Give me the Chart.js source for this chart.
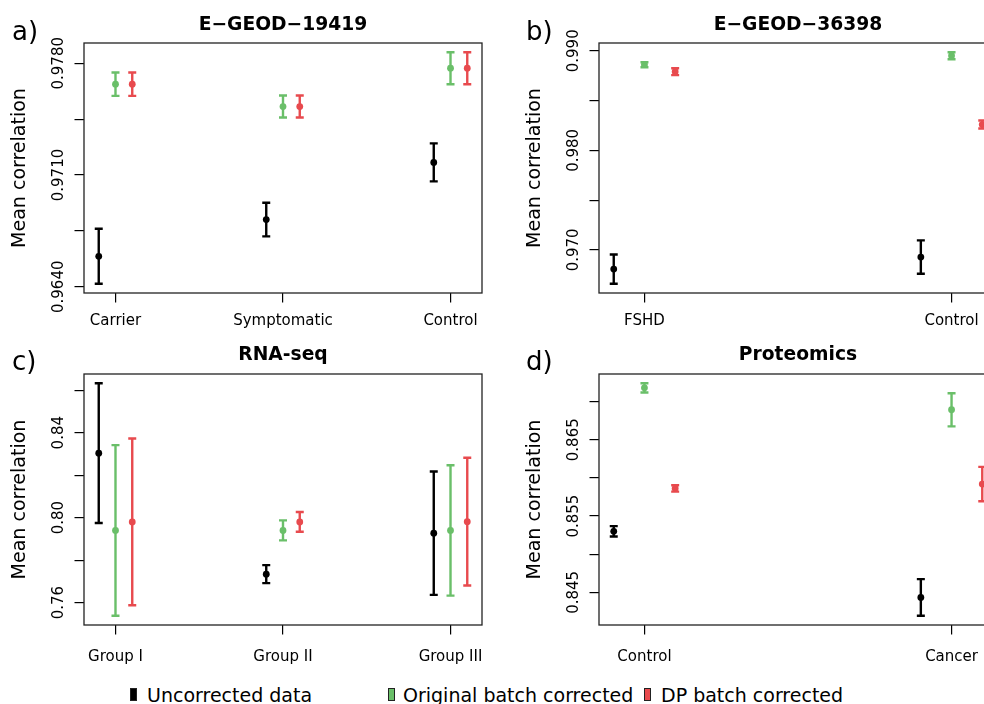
<!DOCTYPE html>
<html>
<head>
<meta charset="utf-8">
<script src="https://cdn.jsdelivr.net/npm/chart.js@4.4.1/dist/chart.umd.min.js"></script>
<style>
  html, body { margin: 0; padding: 0; background: #fff; overflow: hidden; }
  body { width: 984px; height: 704px; position: relative; font-family: 'DejaVu Sans', sans-serif; color: #000; }
  .panel { position: absolute; width: 500px; height: 340px; }
  .title { position: absolute; width: 400px; text-align: center; font-weight: bold; font-size: 18.7px; line-height: 1; white-space: nowrap; }
  .letter { position: absolute; font-size: 26px; line-height: 1; }
  .leg { position: absolute; top: 686px; font-size: 19px; line-height: 1; white-space: nowrap; }
  .sw { position: absolute; top: 688px; width: 7px; height: 13px; border: 1px solid #222; box-sizing: border-box; }
</style>
</head>
<body>

<div class="panel" style="left:0;top:0"><canvas id="chartA"></canvas></div>
<div class="panel" style="left:515px;top:0"><canvas id="chartB"></canvas></div>
<div class="panel" style="left:0;top:331px"><canvas id="chartC"></canvas></div>
<div class="panel" style="left:515px;top:331px"><canvas id="chartD"></canvas></div>

<div class="letter" style="left:12px;top:18px">a)</div>
<div class="letter" style="left:526px;top:18px">b)</div>
<div class="letter" style="left:12px;top:348px">c)</div>
<div class="letter" style="left:526px;top:348px">d)</div>

<div class="title" style="left:83px;top:15px">E−GEOD−19419</div>
<div class="title" style="left:598px;top:15px">E−GEOD−36398</div>
<div class="title" style="left:83px;top:345px">RNA-seq</div>
<div class="title" style="left:598px;top:345px">Proteomics</div>

<div class="sw" style="left:130px;background:#000"></div>
<div class="leg" style="left:147px">Uncorrected data</div>
<div class="sw" style="left:388px;background:#6abf69"></div>
<div class="leg" style="left:403px">Original batch corrected</div>
<div class="sw" style="left:644px;background:#e84a4e"></div>
<div class="leg" style="left:661px">DP batch corrected</div>

<script>
const BLACK = '#000000';
const GREEN = '#6abf69';
const RED = '#e84a4e';

// a) E-GEOD-19419
const catsA = ['Carrier', 'Symptomatic', 'Control'];
const uncorrA = [0.96591, 0.96821, 0.97179];
const uncorrErrA = [0.00172, 0.00105, 0.00119];
const origA = [0.97669, 0.97529, 0.97769];
const origErrA = [0.00073, 0.00069, 0.00100];
const dpA = [0.97669, 0.97529, 0.97769];
const dpErrA = [0.00073, 0.00069, 0.00100];
const yTicksA = [0.9640, 0.9675, 0.9710, 0.9745, 0.9780];
const yLabelsA = ['0.9640', '', '0.9710', '', '0.9780'];

// b) E-GEOD-36398
const catsB = ['FSHD', 'Control'];
const uncorrB = [0.96807, 0.96928];
const uncorrErrB = [0.00147, 0.00168];
const origB = [0.98860, 0.98950];
const origErrB = [0.00025, 0.00035];
const dpB = [0.98790, 0.98259];
const dpErrB = [0.00035, 0.00040];
const yTicksB = [0.970, 0.975, 0.980, 0.985, 0.990];
const yLabelsB = ['0.970', '', '0.980', '', '0.990'];

// c) RNA-seq
const catsC = ['Group I', 'Group II', 'Group III'];
const uncorrC = [0.83038, 0.77340, 0.79267];
const uncorrErrC = [0.03288, 0.00425, 0.02904];
const origC = [0.79400, 0.79400, 0.79400];
const origErrC = [0.04017, 0.00472, 0.03070];
const dpC = [0.79800, 0.79800, 0.79810];
const dpErrC = [0.03927, 0.00465, 0.03007];
const yTicksC = [0.76, 0.78, 0.80, 0.82, 0.84, 0.86];
const yLabelsC = ['0.76', '', '0.80', '', '0.84', ''];

// d) Proteomics
const catsD = ['Control', 'Cancer'];
const uncorrD = [0.85300, 0.84434];
const uncorrErrD = [0.00068, 0.00240];
const origD = [0.87180, 0.86893];
const origErrD = [0.00060, 0.00217];
const dpD = [0.85862, 0.85919];
const dpErrD = [0.00042, 0.00225];
const yTicksD = [0.845, 0.850, 0.855, 0.860, 0.865, 0.870];
const yLabelsD = ['0.845', '', '0.855', '', '0.865', ''];

const SHIFT = { uncorr: -0.1, orig: 0, dp: 0.1 };

// mean +- err bars, drawn under the points
const errorBars = {
    id: 'errorBars',
    beforeDatasetsDraw(chart) {
        const { ctx, scales: { x, y } } = chart;
        ctx.save();
        ctx.lineWidth = 2.4;
        ctx.lineCap = 'butt';
        chart.data.datasets.forEach(ds => {
            ctx.strokeStyle = ds.borderColor;
            ds.data.forEach((p, i) => {
                const px = x.getPixelForValue(p.x);
                const top = y.getPixelForValue(p.y + ds.err[i]);
                const bot = y.getPixelForValue(p.y - ds.err[i]);
                ctx.beginPath();
                ctx.moveTo(px, top); ctx.lineTo(px, bot);
                ctx.moveTo(px - 4, top); ctx.lineTo(px + 4, top);
                ctx.moveTo(px - 4, bot); ctx.lineTo(px + 4, bot);
                ctx.stroke();
            });
        });
        ctx.restore();
    }
};

// R style: box round the plot, rotated y labels
const rAxes = {
    id: 'rAxes',
    afterDraw(chart, args, opts) {
        const { ctx, chartArea: a, scales: { x, y } } = chart;
        ctx.save();
        ctx.fillStyle = '#000';
        ctx.font = '15px "DejaVu Sans"';
        ctx.textAlign = 'center';
        ctx.textBaseline = 'alphabetic';
        x.ticks.forEach(t => {
            ctx.fillText(t.label, x.getPixelForValue(t.value), a.bottom + opts.xGap);
        });
        y.ticks.forEach(t => {
            if (!t.label) return;
            ctx.save();
            ctx.translate(a.left - 21.3, y.getPixelForValue(t.value));
            ctx.rotate(-Math.PI / 2);
            ctx.fillText(t.label, 0, 0);
            ctx.restore();
        });
        ctx.strokeStyle = '#222';
        ctx.lineWidth = 1.3;
        ctx.strokeRect(a.left, a.top, a.right - a.left, a.bottom - a.top);
        ctx.restore();
    }
};

function buildPanel(id, cats, series, yTicks, yLabels, xHeight, xGap) {
    let lo = Infinity, hi = -Infinity;
    series.forEach(s => s.mean.forEach((m, i) => {
        lo = Math.min(lo, m - s.err[i]);
        hi = Math.max(hi, m + s.err[i]);
    }));
    const yPad = (hi - lo) * 0.04;
    const xLo = 0.9, xHi = cats.length + 0.1;
    const xPad = (xHi - xLo) * 0.04;

    return new Chart(document.getElementById(id), {
        type: 'scatter',
        data: {
            datasets: series.map(s => ({
                label: s.name,
                data: s.mean.map((m, i) => ({ x: i + 1 + s.shift, y: m })),
                err: s.err,
                backgroundColor: s.color,
                borderColor: s.color,
                pointRadius: 3.4,
                pointHoverRadius: 3.4,
                pointBorderWidth: 0,
            }))
        },
        options: {
            responsive: true,
            maintainAspectRatio: false,
            animation: false,
            events: [],
            layout: { padding: { top: 43, right: 18, left: 0, bottom: 0 } },
            plugins: {
                legend: { display: false },
                tooltip: { enabled: false },
                rAxes: { xGap },
            },
            scales: {
                x: {
                    type: 'linear',
                    min: xLo - xPad,
                    max: xHi + xPad,
                    afterBuildTicks: s => { s.ticks = cats.map((c, i) => ({ value: i + 1 })); },
                    afterFit: s => { s.height = xHeight; s.paddingLeft = 0; s.paddingRight = 0; },
                    ticks: { display: false, callback: (v) => cats[Math.round(v) - 1] },
                    grid: { drawOnChartArea: false, drawTicks: true, tickLength: 9.5, color: '#000', lineWidth: 1.2 },
                    border: { display: false },
                },
                y: {
                    min: lo - yPad,
                    max: hi + yPad,
                    afterBuildTicks: s => { s.ticks = yTicks.map(v => ({ value: v })); },
                    afterFit: s => { s.width = 84; s.paddingTop = 0; s.paddingBottom = 0; },
                    ticks: { display: false, callback: (v, i) => yLabels[i] },
                    grid: { drawOnChartArea: false, drawTicks: true, tickLength: 9.5, color: '#000', lineWidth: 1.2 },
                    border: { display: false },
                    title: {
                        display: true,
                        text: 'Mean correlation',
                        color: '#000',
                        font: { family: 'DejaVu Sans', size: 19 },
                        padding: { top: 9, bottom: 0 },
                    },
                }
            }
        },
        plugins: [errorBars, rAxes]
    });
}

function series(u, ue, o, oe, d, de) {
    return [
        { name: 'Uncorrected data', mean: u, err: ue, color: BLACK, shift: SHIFT.uncorr },
        { name: 'Original batch corrected', mean: o, err: oe, color: GREEN, shift: SHIFT.orig },
        { name: 'DP batch corrected', mean: d, err: de, color: RED, shift: SHIFT.dp },
    ];
}

buildPanel('chartA', catsA, series(uncorrA, uncorrErrA, origA, origErrA, dpA, dpErrA), yTicksA, yLabelsA, 47, 31.5);
buildPanel('chartB', catsB, series(uncorrB, uncorrErrB, origB, origErrB, dpB, dpErrB), yTicksB, yLabelsB, 47, 31.5);
buildPanel('chartC', catsC, series(uncorrC, uncorrErrC, origC, origErrC, dpC, dpErrC), yTicksC, yLabelsC, 46, 36);
buildPanel('chartD', catsD, series(uncorrD, uncorrErrD, origD, origErrD, dpD, dpErrD), yTicksD, yLabelsD, 46, 36);
</script>
</body>
</html>
